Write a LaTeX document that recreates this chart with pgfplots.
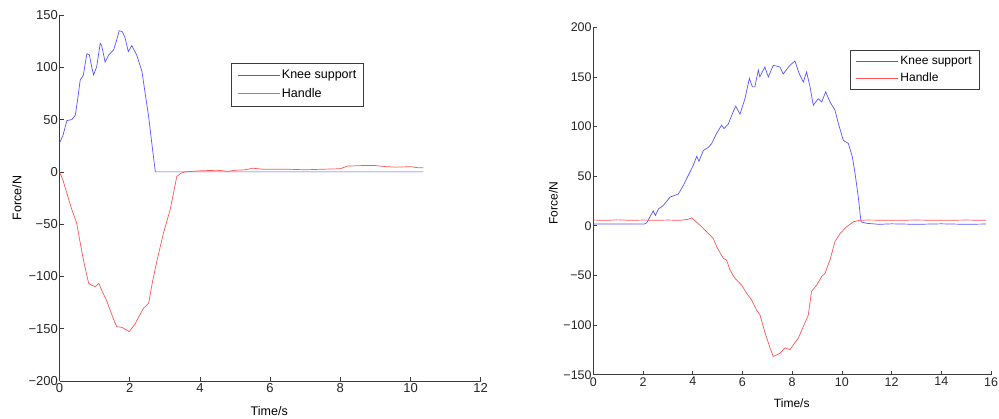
\documentclass[border=0pt]{standalone}
\usepackage{pgfplots}
\pgfplotsset{compat=1.18}
\usepackage{fontspec}
\setmainfont{Liberation Sans}
\definecolor{kblue}{RGB}{85,85,255}
\definecolor{hred}{RGB}{255,85,85}
\definecolor{axc}{RGB}{60,60,60}
\pgfplotsset{
  mystyle/.style={
    scale only axis,
    axis x line*=bottom, axis y line*=left,
    x axis line style={-}, y axis line style={-},
    axis line style={axc, line width=0.8bp},
    tick align=inside, major tick length=4bp,
    tick style={axc, line width=0.7bp},
    /pgf/number format/assume math mode=true,
    ticklabel style={text=black!85},
    yticklabel style={inner sep=1.5bp},
    xticklabel style={inner sep=2.5bp},
    legend cell align=left,
    legend image code/.code={\draw[##1, line width=0.7bp] (0bp,0bp) -- (38bp,0bp); \path (0bp,0bp) -- (42bp,0bp);},
    legend style={draw=axc, line width=0.8bp, fill=white, inner xsep=5.5bp, inner ysep=5bp,
      row sep=4bp, nodes={inner sep=2bp}},
  }
}
\begin{document}
\begin{tikzpicture}
\path[use as bounding box] (0,0) rectangle (999bp,419bp);
\begin{axis}[mystyle,
  at={(59.5bp,38bp)}, anchor=south west,
  width=421.2bp, height=366bp,
  xmin=0, xmax=12, ymin=-200, ymax=150,
  xtick={0,2,...,12}, ytick={-200,-150,-100,-50,0,50,100,150},
  yticklabels={−200,−150,−100,−50,0,50,100,150},
  font=\fontsize{12.5bp}{15bp}\selectfont,
  tick label style={font=\fontsize{13bp}{15bp}\selectfont},
  xlabel={Time/s}, ylabel={Force/N},
  every axis x label/.style={at={(axis description cs:0.498,-0.081)}, anchor=center},
  every axis y label/.style={at={(axis description cs:-0.101,0.5)}, rotate=90, anchor=center},
  legend style={at={(0.408,0.869)}, anchor=north west, font=\fontsize{12.5bp}{15bp}\selectfont},
]
\addplot[kblue, line width=0.7bp] coordinates {
(0,27.3)(0.1,35)(0.21,49)(0.35,50)(0.45,54)(0.52,70)(0.59,87.8)(0.68,92.6)(0.78,113)(0.85,112)(0.92,100)(0.97,92.6)(1.06,100.6)(1.16,122.9)(1.2,121)(1.3,105)(1.4,111.7)(1.54,116.5)(1.62,125)(1.7,135)(1.79,134)(1.87,128)(1.96,115)(2.06,120.7)(2.2,111.7)(2.35,96)(2.44,75)(2.54,52.8)(2.63,27.3)(2.73,0)(10.37,0)
};
\addlegendentry{Knee support}
\addplot[hred, line width=0.7bp] coordinates {
(0,0)(0.1,-8)(0.21,-20.5)(0.35,-36)(0.49,-49)(0.58,-66)(0.68,-84)(0.83,-106.6)(0.92,-108.5)(1.02,-109.8)(1.12,-106.6)(1.22,-114.6)(1.33,-122)(1.44,-132)(1.53,-140)(1.63,-148)(1.78,-148.7)(1.99,-152.8)(2.16,-144.9)(2.39,-130.5)(2.54,-125.7)(2.65,-105)(2.77,-85.9)(2.96,-58.8)(3.15,-36.5)(3.25,-20)(3.34,-4.6)(3.45,-1.5)(3.58,0)(4.0,1)(4.5,1.5)(4.8,0.5)(5.0,1.5)(5.3,2)(5.5,3.5)(5.8,2.5)(6.5,2.5)(7,2)(7.5,2.5)(8.0,3)(8.2,5.5)(8.6,6)(9.0,6)(9.3,5)(9.6,4.5)(10.0,5)(10.2,4)(10.37,4)
};
\addlegendentry{Handle}
\end{axis}
\begin{axis}[mystyle,
  at={(593.3bp,44.3bp)}, anchor=south west,
  width=397.7bp, height=347.4bp,
  xmin=0, xmax=16, ymin=-150, ymax=200,
  xtick={0,2,...,16}, ytick={-150,-100,-50,0,50,100,150,200},
  yticklabels={−150,−100,−50,0,50,100,150,200},
  font=\fontsize{12bp}{14.5bp}\selectfont,
  tick label style={font=\fontsize{12.5bp}{14.5bp}\selectfont},
  xlabel={Time/s}, ylabel={Force/N},
  every axis x label/.style={at={(axis description cs:0.499,-0.082)}, anchor=center},
  every axis y label/.style={at={(axis description cs:-0.1006,0.494)}, rotate=90, anchor=center},
  legend style={at={(0.645,0.935)}, anchor=north west, font=\fontsize{12bp}{14.5bp}\selectfont,
    inner ysep=4bp, row sep=3bp},
]
\addplot[kblue, line width=0.7bp] coordinates {
(0,1.8)(1,1.8)(2.05,1.8)(2.15,3)(2.28,9)(2.41,15)(2.5,10.5)(2.62,17)(2.82,20.6)(3.09,29)(3.42,32)(3.62,40.6)(3.82,50.7)(4.02,60.8)(4.16,70)(4.25,65)(4.43,76)(4.63,79)(4.76,82.8)(4.96,93)(5.16,101.4)(5.26,98)(5.43,102.5)(5.63,115)(5.73,120.6)(5.9,112.5)(6.1,128)(6.28,148.5)(6.4,140)(6.5,140)(6.64,157)(6.7,150)(6.9,160)(7.04,150)(7.24,161.7)(7.51,160)(7.64,153)(7.91,161.7)(8.11,166)(8.29,153)(8.45,144.8)(8.58,155)(8.72,140)(8.85,121.5)(9.05,128)(9.19,124.8)(9.35,135)(9.52,124.8)(9.72,116.7)(9.86,103)(10.06,86)(10.26,83)(10.42,69.6)(10.53,53)(10.66,29)(10.77,4)(11,2.5)(11.5,1.5)(12,2)(13,1.5)(14,2)(15,1.5)(15.8,1.8)
};
\addlegendentry{Knee support}
\addplot[hred, line width=0.7bp] coordinates {
(0,5.8)(0.5,5.5)(1,6)(1.5,5.5)(2,5.8)(2.5,5.5)(3,5.8)(3.5,5.5)(3.8,6.5)(3.96,8)(4.29,0.7)(4.63,-7.7)(4.83,-12.8)(4.96,-21)(5.23,-32.8)(5.36,-34.5)(5.5,-44.6)(5.7,-53)(5.97,-59.7)(6.17,-68)(6.37,-74.8)(6.57,-84.9)(6.71,-90)(6.91,-108)(7.11,-123)(7.24,-131.7)(7.51,-128.3)(7.71,-123)(7.91,-124.8)(8.25,-113)(8.45,-101.4)(8.65,-89.8)(8.78,-66)(8.99,-59.7)(9.19,-51)(9.32,-47.9)(9.52,-34.5)(9.72,-16)(9.93,-7.7)(10.19,-1)(10.46,4)(10.7,5.5)(11,5.8)(12,5.5)(13,5.8)(14,5.5)(15,5.8)(15.8,5.5)
};
\addlegendentry{Handle}
\end{axis}
\end{tikzpicture}
\end{document}
